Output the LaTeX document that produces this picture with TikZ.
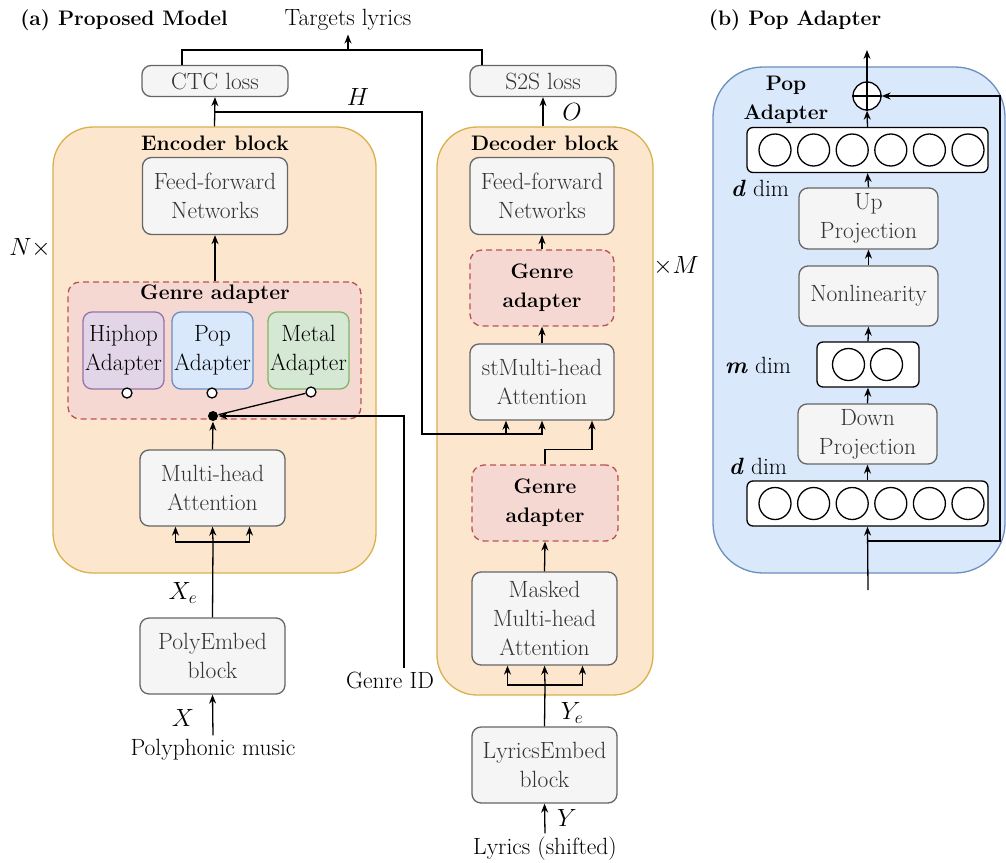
\documentclass[tikz,border=0pt]{standalone}
\usepackage{fontspec}
\usetikzlibrary{arrows.meta}

\newcommand{\figfont}{\fontsize{23.5}{29}\selectfont}
\newcommand{\figbold}{\fontsize{21}{29}\selectfont\bfseries}

\definecolor{boxfill}{HTML}{F5F5F5}
\definecolor{boxline}{HTML}{666666}
\definecolor{boxtext}{HTML}{333333}
\definecolor{blockfill}{HTML}{FCE6CD}
\definecolor{blockline}{HTML}{D9B24C}
\definecolor{genrefill}{HTML}{F6D8D3}
\definecolor{genreline}{HTML}{B85450}
\definecolor{hipfill}{HTML}{E1D5E7}
\definecolor{hipline}{HTML}{9673A6}
\definecolor{popfill}{HTML}{DAE8FC}
\definecolor{popline}{HTML}{6C8EBF}
\definecolor{metalfill}{HTML}{D5E8D4}
\definecolor{metalline}{HTML}{82B366}

\begin{document}
\begin{tikzpicture}[x=1pt, y=-1pt, line width=1.3pt,
    every node/.style={font=\figfont},
    box/.style={draw=boxline, fill=boxfill, text=boxtext, rounded corners=9pt, align=center, inner sep=0pt},
    genre/.style={draw=genreline, fill=genrefill, dash pattern=on 6pt off 4pt, rounded corners=12pt, align=center, inner sep=0pt, font=\figbold},
    block/.style={draw=blockline, fill=blockfill, rounded corners=40pt, inner sep=0pt},
    layer/.style={draw, fill=white, rounded corners=6pt, minimum height=45, inner sep=0pt},
    neuron/.style={circle, draw, fill=white, minimum size=32, inner sep=0pt},
    port/.style={circle, draw, fill=white, minimum size=10, inner sep=0pt},
    arr/.style={-{Stealth[length=9pt, width=7pt]}}]
    \fill[white] (0,0) rectangle (1006,862);
    \useasboundingbox (0,0) rectangle (1006,862);

    % (a) proposed model
    \node[font=\figbold] (titlea) at (124,20) {(a) Proposed Model};
    \node (tgt) at (348,20) {Targets lyrics};
    \node[box, minimum width=146, minimum height=31] (ctc) at (215,81) {CTC loss};
    \node[box, minimum width=146, minimum height=31] (s2s) at (543,81) {S2S loss};

    % encoder
    \node[block, minimum width=323, minimum height=446] (enc) at (214.5,350) {};
    \node[font=\figbold] (enclab) at (215,143) {Encoder block};
    \node[box, minimum width=145, minimum height=77] (eff) at (215,196) {Feed-forward\\Networks};
    \node[genre, minimum width=293, minimum height=137] (egenre) at (214.5,350.5) {};
    \node[font=\figbold] (egenrelab) at (215,294) {Genre adapter};
    \node[draw=hipline, fill=hipfill, rounded corners=9pt, align=center, inner sep=0pt, minimum width=81, minimum height=77] (hiphop) at (123.5,350.5) {Hiphop\\Adapter};
    \node[draw=popline, fill=popfill, rounded corners=9pt, align=center, inner sep=0pt, minimum width=81, minimum height=77] (pop) at (212.5,350.5) {Pop\\Adapter};
    \node[draw=metalline, fill=metalfill, rounded corners=9pt, align=center, inner sep=0pt, minimum width=81, minimum height=77] (metal) at (308.5,350.5) {Metal\\Adapter};
    \node[port] (hipout) at (127,393) {};
    \node[port] (popout) at (212,393) {};
    \node[port] (metalout) at (311,392) {};
    \node[circle, fill=black, minimum size=10, inner sep=0pt] (sw) at (213,416) {};
    \node[box, minimum width=145, minimum height=76] (emha) at (212.5,488) {Multi-head\\Attention};
    \node[box, minimum width=145, minimum height=76] (pemb) at (212.5,656) {PolyEmbed\\block};
    \node (poly) at (213,750) {Polyphonic music};
    \node (gid) at (390,680) {Genre ID};
    \node (ntimes) at (30,248) {$N\times$};

    \draw[arr] (poly.north) -- (pemb.south);
    \coordinate (encfork) at (213,542);
    \draw (pemb.north) -- (encfork);
    \draw[arr] (encfork) -- (emha.south);
    \draw[arr] (encfork) -| ([xshift=-37pt]emha.south);
    \draw[arr] (encfork) -| ([xshift=37pt]emha.south);
    \draw[arr] (emha.north) -- (sw.south);
    \draw (sw) -- (metalout);
    \draw[arr] ([xshift=14pt]gid.north) |- (sw.east);
    \draw[arr] (egenre.north -| eff.south) -- (eff.south);
    \draw[arr] (enc.north) -- (ctc.south);
    \node (xlab) at (183,718) {$X$};
    \node (xelab) at (183,593) {$X_e$};

    % decoder
    \node[block, minimum width=216, minimum height=568] (dec) at (545,411) {};
    \node[font=\figbold] (declab) at (545,143) {Decoder block};
    \node[box, minimum width=144, minimum height=77] (dff) at (542,196) {Feed-forward\\Networks};
    \node[genre, minimum width=144, minimum height=76] (dgenrea) at (542,288) {Genre\\adapter};
    \node[box, minimum width=144, minimum height=76] (cross) at (542,382) {stMulti-head\\Attention};
    \node[genre, minimum width=146, minimum height=76] (dgenreb) at (545,503) {Genre\\adapter};
    \node[box, minimum width=145, minimum height=93] (masked) at (544.5,618.5) {Masked\\Multi-head\\Attention};
    \node[box, minimum width=145, minimum height=76] (lemb) at (544.5,765) {LyricsEmbed\\block};
    \node (lyrics) at (545,849) {Lyrics (shifted)};
    \node (mtimes) at (676,266) {$\times M$};

    \draw[arr] (lyrics.north) -- (lemb.south);
    \coordinate (decfork) at (545,685);
    \draw (lemb.north) -- (decfork);
    \draw[arr] (decfork) -- (masked.south);
    \draw[arr] (decfork) -| ([xshift=-37pt]masked.south);
    \draw[arr] (decfork) -| ([xshift=38pt]masked.south);
    \draw[arr] (masked.north) -- (dgenreb.south);
    \draw[arr] (dgenreb.north) -- ++(0,-15) -| ([xshift=50pt]cross.south);
    \draw[arr] (cross.north) -- (dgenrea.south);
    \draw[arr] (dgenrea.north) -- (dff.south);
    \draw[arr] (s2s.south |- dec.north) -- (s2s.south);
    \node (ylab) at (567,818) {$Y$};
    \node (yelab) at (572,713) {$Y_e$};
    \node (olab) at (572,112) {$O$};

    % encoder output H to cross attention
    \coordinate (hsplit) at (215,112);
    \coordinate (hturn) at (422,434);
    \draw[arr] (hsplit) -| (hturn) -| ([xshift=-36pt]cross.south);
    \draw[arr] (hturn) -| (cross.south);
    \node (hlab) at (358,97) {$H$};

    % both losses to targets
    \coordinate (tgtjoin) at (348,50);
    \draw ([xshift=-33pt]ctc.north) |- (tgtjoin) -| ([xshift=-61pt]s2s.north);
    \draw[arr] (tgtjoin) -- (tgt.south);

    % (b) pop adapter
    \node[font=\figbold] (titleb) at (795,20) {(b) Pop Adapter};
    \node[draw=popline, fill=popfill, rounded corners=50pt, minimum width=292, minimum height=506] (panel) at (859,320) {};
    \node[font=\figbold, align=center] (panellab) at (786,100) {Pop\\Adapter};
    \node[circle, draw, fill=white, minimum size=28, inner sep=0pt] (plus) at (867,96) {};
    \draw (plus.north) -- (plus.south) (plus.west) -- (plus.east);
    \node[layer, minimum width=241] (dtop) at (867.5,150) {};
    \foreach \i in {0,...,5}
        \node[neuron] (t\i) at (775+38.6*\i,150) {};
    \node[box, minimum width=139, minimum height=61] (up) at (868.5,218.5) {Up\\Projection};
    \node[box, minimum width=139, minimum height=60] (nonlin) at (868.5,296) {Nonlinearity};
    \node[layer, minimum width=102] (mmid) at (868,364.5) {};
    \node[neuron] (m0) at (848.5,364.5) {};
    \node[neuron] (m1) at (886.5,364.5) {};
    \node[box, minimum width=139, minimum height=60] (down) at (867.5,434) {Down\\Projection};
    \node[layer, minimum width=241] (dlow) at (867.5,503.5) {};
    \foreach \i in {0,...,5}
        \node[neuron] (b\i) at (775+38.6*\i,503.5) {};
    \node (dtoplab) at (760,188) {\textbf{\textit{d}} dim};
    \node (mlab) at (758,365) {\textbf{\textit{m}} dim};
    \node (dlowlab) at (758,466) {\textbf{\textit{d}} dim};

    \coordinate (popin) at (868,590);
    \coordinate (skip) at (868,541);
    \coordinate (popoutput) at (867,50);
    \draw[arr] (popin) -- (dlow.south);
    \draw[arr] (skip) -- (1000,541) |- (plus.east);
    \draw[arr] (dlow.north) -- (down.south);
    \draw[arr] (down.north) -- (mmid.south);
    \draw[arr] (mmid.north) -- (nonlin.south);
    \draw[arr] (nonlin.north) -- (up.south);
    \draw[arr] (up.north) -- (dtop.south);
    \draw[arr] (dtop.north) -- (plus.south);
    \draw[arr] (plus.north) -- (popoutput);
\end{tikzpicture}
\end{document}
